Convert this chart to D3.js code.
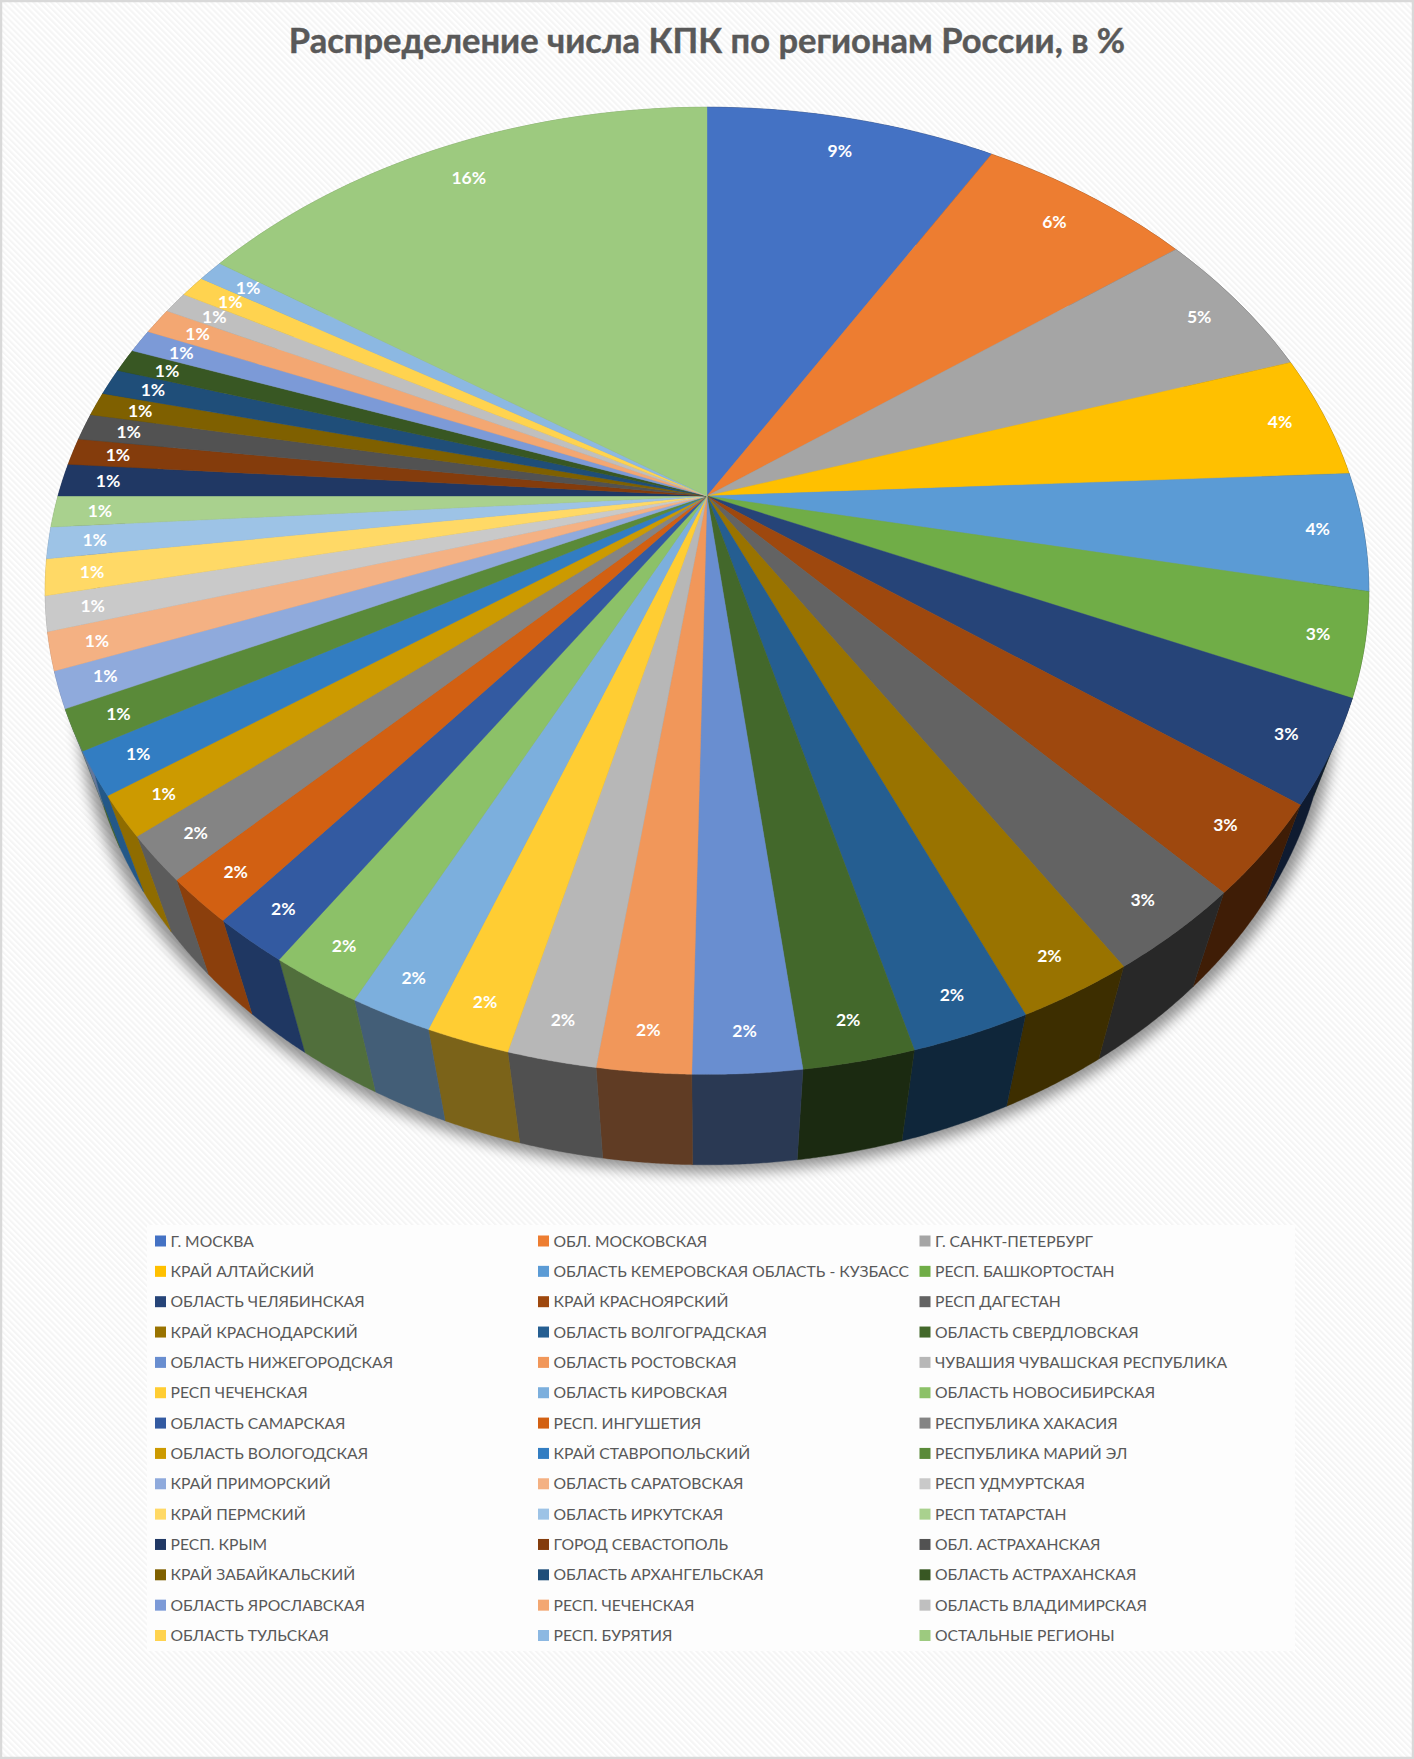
<!DOCTYPE html>
<html><head><meta charset="utf-8">
<style>html,body{margin:0;padding:0;background:#fff}svg{display:block}</style>
<script src="https://cdn.jsdelivr.net/npm/d3@7"></script>
</head><body><svg id="c" width="1414" height="1759"></svg>
<script>
const title = "Распределение числа КПК по регионам России, в %";
const categories = ["Г. МОСКВА","ОБЛ. МОСКОВСКАЯ","Г. САНКТ-ПЕТЕРБУРГ","КРАЙ АЛТАЙСКИЙ","ОБЛАСТЬ КЕМЕРОВСКАЯ ОБЛАСТЬ - КУЗБАСС","РЕСП. БАШКОРТОСТАН","ОБЛАСТЬ ЧЕЛЯБИНСКАЯ","КРАЙ КРАСНОЯРСКИЙ","РЕСП ДАГЕСТАН","КРАЙ КРАСНОДАРСКИЙ","ОБЛАСТЬ ВОЛГОГРАДСКАЯ","ОБЛАСТЬ СВЕРДЛОВСКАЯ","ОБЛАСТЬ НИЖЕГОРОДСКАЯ","ОБЛАСТЬ РОСТОВСКАЯ","ЧУВАШИЯ ЧУВАШСКАЯ РЕСПУБЛИКА","РЕСП ЧЕЧЕНСКАЯ","ОБЛАСТЬ КИРОВСКАЯ","ОБЛАСТЬ НОВОСИБИРСКАЯ","ОБЛАСТЬ САМАРСКАЯ","РЕСП. ИНГУШЕТИЯ","РЕСПУБЛИКА ХАКАСИЯ","ОБЛАСТЬ ВОЛОГОДСКАЯ","КРАЙ СТАВРОПОЛЬСКИЙ","РЕСПУБЛИКА МАРИЙ ЭЛ","КРАЙ ПРИМОРСКИЙ","ОБЛАСТЬ САРАТОВСКАЯ","РЕСП УДМУРТСКАЯ","КРАЙ ПЕРМСКИЙ","ОБЛАСТЬ ИРКУТСКАЯ","РЕСП ТАТАРСТАН","РЕСП. КРЫМ","ГОРОД СЕВАСТОПОЛЬ","ОБЛ. АСТРАХАНСКАЯ","КРАЙ ЗАБАЙКАЛЬСКИЙ","ОБЛАСТЬ АРХАНГЕЛЬСКАЯ","ОБЛАСТЬ АСТРАХАНСКАЯ","ОБЛАСТЬ ЯРОСЛАВСКАЯ","РЕСП. ЧЕЧЕНСКАЯ","ОБЛАСТЬ ВЛАДИМИРСКАЯ","ОБЛАСТЬ ТУЛЬСКАЯ","РЕСП. БУРЯТИЯ","ОСТАЛЬНЫЕ РЕГИОНЫ"];
const values = [8.56,6.36,5.16,4.14,3.94,3.40,3.44,3.05,2.95,2.40,2.43,2.27,2.20,1.90,1.80,1.70,1.70,1.90,1.60,1.52,1.52,1.36,1.45,1.35,1.20,1.25,1.15,1.20,1.05,1.05,1.10,0.90,0.90,0.80,0.90,0.80,0.80,0.90,0.75,0.75,0.75,15.65];
const colors = ["#4472C4","#ED7D31","#A5A5A5","#FFC000","#5B9BD5","#70AD47","#264478","#9E480E","#636363","#997300","#255E91","#43682B","#698ED0","#F1975A","#B7B7B7","#FFCD33","#7CAFDD","#8CC168","#335AA1","#D26012","#848484","#CC9A00","#327DC2","#5A8A39","#8FAADC","#F4B183","#C9C9C9","#FFD966","#9DC3E6","#A9D18E","#203864","#843C0C","#525252","#7F6000","#1F4E79","#385723","#7C9AD7","#F3A772","#BFBFBF","#FFD34F","#8CB8E2","#9DCA7F"];

const W = 1414, H = 1759;
const cx = 707, cy = 496, A = 649, B = 465, persp = 0.196;
const depth = 102, shrinkX = 0.06, shrinkY = 0.02;
const xS = d3.scaleLinear([0,1],[cx,cx+A]);
const yS = d3.scaleLinear([0,1],[cy,cy+B]);
const shade = d3.scaleLinear([0,185,195,205,215,222,228,360],[.4,.4,.46,.55,.6,.66,.7,.7]);
const labelR = d3.scaleLinear([-1,-.8,-.5,0,1],[.903,.895,.92,.93,.94]);

function proj(t,r=1){const u=r*Math.sin(t),v=-r*Math.cos(t),w=1-persp*v;return [xS(u/w),yS(v/w)];}
function projB(t){const [x,y]=proj(t);return [cx+(x-cx)*(1-shrinkX), y+depth-shrinkY*(y-cy)];}
function samples(a,b,n=40){return d3.range(n+1).map(i=>a+(b-a)*i/n);}
const line = d3.line();

const svg = d3.select("#c");
const defs = svg.append("defs");
const pat = defs.append("pattern").attr("id","stripes").attr("patternUnits","userSpaceOnUse").attr("width",4.2).attr("height",4.2).attr("patternTransform","rotate(-45)");
pat.append("rect").attr("width",4.2).attr("height",4.2).attr("fill","#ffffff");
pat.append("rect").attr("width",2.1).attr("height",4.2).attr("fill","#f5f5f5");
defs.append("filter").attr("id","blur").attr("x","-10%").attr("y","-10%").attr("width","120%").attr("height","120%")
  .append("feGaussianBlur").attr("stdDeviation",7);

svg.append("rect").attr("x",1).attr("y",1).attr("width",W-2).attr("height",H-2).attr("fill","url(#stripes)").attr("stroke","#d9d9d9").attr("stroke-width",2.5);
svg.append("rect").attr("x",147).attr("y",1225).attr("width",1148).attr("height",426).attr("fill","#fdfdfd");

svg.append("text").attr("x",cx).attr("y",53).attr("text-anchor","middle").attr("font-family","Lato,'Open Sans',sans-serif").attr("font-weight",700).attr("font-size",34.5).attr("fill","#595959").attr("stroke","#595959").attr("stroke-width",.4).text(title);

const arcs = d3.pie().sort(null)(values);
const full = samples(0,2*Math.PI,360);

svg.append("path").attr("d",line(full.map(t=>{const [x,y]=projB(t);return [cx+(x-cx)*1.012,y+8];}))+"Z").attr("fill","#000").attr("opacity",.42).attr("filter","url(#blur)");

svg.append("g").selectAll("path").data(arcs).join("path")
  .attr("d",d=>{const s=samples(d.startAngle,d.endAngle);return line([...s.map(t=>proj(t)),...s.slice().reverse().map(t=>projB(t))])+"Z";})
  .attr("fill",(d,i)=>d3.interpolateRgb("#000",colors[i])(shade((d.startAngle+d.endAngle)/2*180/Math.PI)))
  .attr("stroke",(d,i)=>d3.interpolateRgb("#000",colors[i])(shade((d.startAngle+d.endAngle)/2*180/Math.PI)))
  .attr("stroke-width",.4);

svg.append("g").selectAll("path").data(arcs).join("path")
  .attr("d",d=>line([[cx,cy],...samples(d.startAngle,d.endAngle).map(t=>proj(t))])+"Z")
  .attr("fill",(d,i)=>colors[i]).attr("stroke",(d,i)=>colors[i]).attr("stroke-width",.4);

const total = d3.sum(values), pct = d3.format(".0%");
svg.append("g").selectAll("text").data(arcs).join("text")
  .attr("transform",d=>{const t=(d.startAngle+d.endAngle)/2,v=-Math.cos(t),[x,y]=proj(t,labelR(v));return `translate(${x},${y})`;})
  .attr("text-anchor","middle").attr("dy","0.36em")
  .attr("font-family","Lato,'Open Sans',sans-serif").attr("font-weight",700).attr("font-size",17.5).attr("fill","#fff")
  .text(d=>pct(d.value/total));

const colX = d3.scaleOrdinal([0,1,2],[155,538,919.5]);
const rowY = d3.scaleLinear([0,13],[1241,1635.5]);
const leg = svg.append("g").selectAll("g").data(categories).join("g")
  .attr("transform",(d,i)=>`translate(${colX(i%3)},${rowY(Math.floor(i/3))})`);
leg.append("rect").attr("x",0).attr("y",-5.5).attr("width",11).attr("height",11).attr("fill",(d,i)=>colors[i]);
leg.append("text").attr("x",15.5).attr("dy","0.36em").attr("font-family","Lato,'Noto Sans',sans-serif").attr("font-size",15.7).attr("fill","#595959").text(d=>d);
</script></body></html>
